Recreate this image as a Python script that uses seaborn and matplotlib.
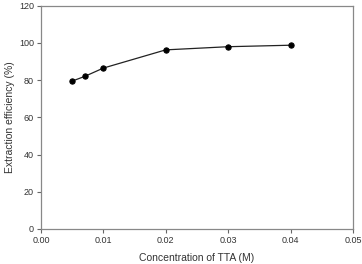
import matplotlib
matplotlib.use("Agg")
import matplotlib.pyplot as plt
import seaborn as sns
import pandas as pd

# Datos
concentracion = [0.005, 0.007, 0.01, 0.02, 0.03, 0.04]
eficiencia = [79.5, 82.0, 86.5, 96.3, 98.0, 98.8]

x_ticks = [0.00, 0.01, 0.02, 0.03, 0.04, 0.05]
y_ticks = [0, 20, 40, 60, 80, 100, 120]

sns.set_style("white")
plt.rcParams["font.family"] = ["Liberation Sans", "DejaVu Sans"]

df = pd.DataFrame({"conc": concentracion, "ef": eficiencia})

fig = plt.figure(figsize=(3.62, 2.64), dpi=100)
ax = fig.add_axes([0.113, 0.133, 0.862, 0.845])

sns.lineplot(data=df, x="conc", y="ef", ax=ax, color="#222222", linewidth=0.9,
             marker="o", markersize=3.8, markeredgecolor="black",
             markerfacecolor="black")

ax.set_xlim(0, 0.05)
ax.set_ylim(0, 120)
ax.set_xticks(x_ticks)
ax.set_xticklabels([f"{t:.2f}" for t in x_ticks])
ax.set_yticks(y_ticks)

ax.set_xlabel("Concentration of TTA (M)", fontsize=7.5, color="#333333", labelpad=6)
ax.set_ylabel("Extraction efficiency (%)", fontsize=7.5, color="#333333", labelpad=3)

for s in ax.spines.values():
    s.set_color("#888888")
    s.set_linewidth(0.9)

ax.tick_params(axis="both", direction="out", length=3, width=0.8,
               color="#666666", labelsize=6.5, labelcolor="#333333", pad=2)
ax.tick_params(axis="both", bottom=True, left=True)

fig.savefig("out.png", dpi=100)
